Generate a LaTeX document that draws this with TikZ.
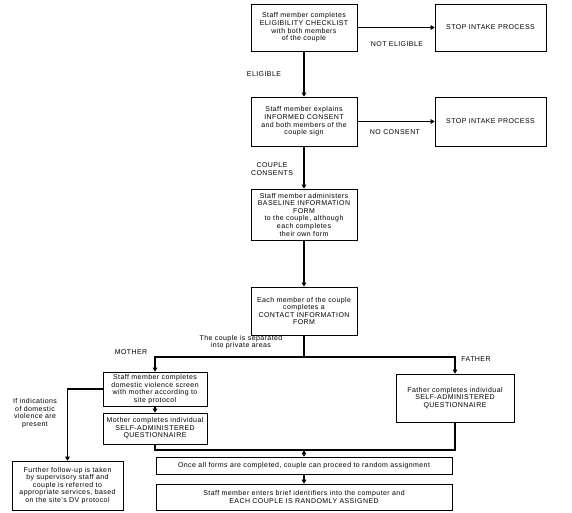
\documentclass[tikz,border=0pt]{standalone}
\usepackage{fontspec}
\setmainfont{Liberation Sans}[LetterSpace=6]
\usetikzlibrary{arrows.meta}
\tikzset{
  box/.style={draw, line width=0.6pt, align=center, font=\fontsize{7}{7.6}\selectfont, inner sep=1.5pt},
  lbl/.style={align=center, font=\fontsize{7}{7.6}\selectfont, inner sep=0pt},
  conn/.style={line width=1.1pt},
  arr/.style={conn, -{Triangle[length=4pt,width=4.5pt]}},
}
\begin{document}
\begin{tikzpicture}[x=1pt,y=-1pt]
\useasboundingbox (0,0) rectangle (572,513);
\fill[white] (0,0) rectangle (572,513);
% main column
\node[box, minimum width=106pt, minimum height=47pt] (b1) at (304,27.5) {Staff member completes\\ELIGIBILITY CHECKLIST\\with both members\\of the couple};
\node[box, minimum width=111pt, minimum height=47pt] (s1) at (490.5,27.5) {STOP INTAKE PROCESS};
\node[box, minimum width=106pt, minimum height=49pt] (b2) at (304,121.5) {Staff member explains\\INFORMED CONSENT\\and both members of the\\couple sign};
\node[box, minimum width=111pt, minimum height=49pt] (s2) at (490.5,121.5) {STOP INTAKE PROCESS};
\node[box, minimum width=106pt, minimum height=51pt] (b3) at (304,214.5) {Staff member administers\\BASELINE INFORMATION\\FORM\\to the couple, although\\each completes\\their own form};
\node[box, minimum width=106pt, minimum height=48pt] (b4) at (304,311) {Each member of the couple\\completes a\\CONTACT INFORMATION\\FORM};
% branches
\node[box, minimum width=104pt, minimum height=34pt] (m1) at (155,389) {Staff member completes\\domestic violence screen\\with mother according to\\site protocol};
\node[box, minimum width=104pt, minimum height=31pt] (m2) at (155,428.5) {Mother completes individual\\SELF-ADMINISTERED\\QUESTIONNAIRE};
\node[box, minimum width=118pt, minimum height=48pt] (fa) at (455,398) {Father completes individual\\SELF-ADMINISTERED\\QUESTIONNAIRE};
\node[box, minimum width=111pt, minimum height=49pt] (fu) at (67.5,485.5) {Further follow-up is taken\\by supervisory staff and\\couple is referred to\\appropriate services, based\\on the site's DV protocol};
\node[box, minimum width=296pt, minimum height=17pt] (once) at (304,465.5) {Once all forms are completed, couple can proceed to random assignment};
\node[box, minimum width=296pt, minimum height=26pt] (ent) at (304,497) {Staff member enters brief identifiers into the computer and\\EACH COUPLE IS RANDOMLY ASSIGNED};
% labels
\node[lbl] (l1) at (397,44) {NOT ELIGIBLE};
\node[lbl] (l2) at (264,74) {ELIGIBLE};
\node[lbl] (l3) at (395,132) {NO CONSENT};
\node[lbl] (l4) at (272,169) {COUPLE\\CONSENTS};
\node[lbl] (l5) at (241,342) {The couple is separated\\into private areas};
\node[lbl] (l6) at (131,352) {MOTHER};
\node[lbl] (l7) at (476,359) {FATHER};
\node[lbl] (l8) at (35,413) {If indications\\of domestic\\violence are\\present};
% connectors
\draw[arr] (b1) -- (s1);
\draw[arr] (b2) -- (s2);
\draw[arr] (b1) -- (b2);
\draw[arr] (b2) -- (b3);
\draw[arr] (b3) -- (b4);
\coordinate (split) at (304,357);
\coordinate (merge) at (304,450);
\draw[conn] (b4) -- (split);
\draw[arr] (split) -| (m1.north);
\draw[arr] (split) -| (fa.north);
\draw[arr] (m1) -- (m2);
\draw[arr] (m1.west) -| (fu.north);
\draw[conn] (m2.south) |- (merge) -| (fa.south);
\draw[arr] (merge) -- (once);
\draw[arr] (once) -- (ent);
\end{tikzpicture}
\end{document}
